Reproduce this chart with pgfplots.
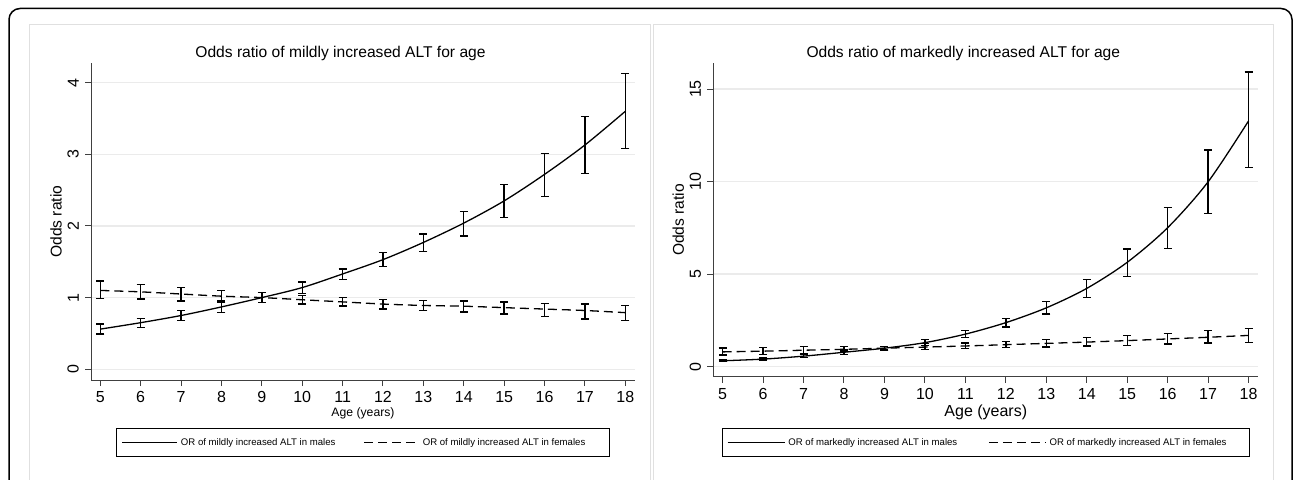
\documentclass[border=0pt]{standalone}
\usepackage{pgfplots}
\pgfplotsset{compat=1.18}
\usepackage{pgfplotstable}
\usepackage{fontspec}
\setmainfont{Liberation Sans}

\pgfplotstableread{
x y lo hi
5 0.56 0.49 0.63
6 0.65 0.58 0.71
7 0.75 0.68 0.82
8 0.87 0.79 0.95
9 1.00 0.93 1.07
10 1.14 1.06 1.22
11 1.33 1.25 1.40
12 1.53 1.43 1.63
13 1.77 1.64 1.89
14 2.04 1.86 2.20
15 2.35 2.12 2.58
16 2.72 2.41 3.01
17 3.13 2.73 3.53
18 3.60 3.08 4.13
}\mildmale
\pgfplotstableread{
x y lo hi
5 1.10 0.99 1.23
6 1.08 0.98 1.18
7 1.05 0.95 1.14
8 1.02 0.93 1.10
9 1.00 0.93 1.07
10 0.97 0.91 1.03
11 0.94 0.88 1.00
12 0.91 0.84 0.97
13 0.89 0.82 0.96
14 0.88 0.80 0.95
15 0.86 0.77 0.94
16 0.84 0.74 0.92
17 0.82 0.70 0.91
18 0.79 0.68 0.89
}\mildfemale
\pgfplotstableread{
x y lo hi
5 0.32 0.28 0.37
6 0.41 0.36 0.47
7 0.57 0.49 0.67
8 0.78 0.67 0.90
9 1.00 0.90 1.10
10 1.30 1.13 1.47
11 1.76 1.58 1.94
12 2.38 2.14 2.61
13 3.18 2.85 3.52
14 4.23 3.75 4.70
15 5.64 4.88 6.35
16 7.51 6.37 8.61
17 9.99 8.28 11.71
18 13.28 10.75 15.92
}\markmale
\pgfplotstableread{
x y lo hi
5 0.80 0.63 1.00
6 0.84 0.67 1.04
7 0.89 0.72 1.08
8 0.94 0.81 1.08
9 1.00 0.90 1.10
10 1.06 0.92 1.25
11 1.12 0.99 1.27
12 1.19 1.04 1.37
13 1.26 1.07 1.48
14 1.33 1.11 1.57
15 1.41 1.16 1.68
16 1.50 1.22 1.78
17 1.59 1.28 1.94
18 1.69 1.32 2.07
}\markfemale

\pgfplotsset{
  ORaxis/.style={
    scale only axis,
    axis x line*=bottom, axis y line*=left,
    axis line style={-, black!75, line width=1pt},
    tick align=outside,
    major tick length=6pt,
    tick style={black!75, line width=1pt},
    xmin=4.77, xmax=18.24,
    xtick={5,...,18},
    ymajorgrids,
    major grid style={black!8, line width=1.3pt},
    /pgf/number format/assume math mode=true,
    ticklabel style={font=\fontsize{16}{16}\selectfont},
    xticklabel style={yshift=-2pt},
    yticklabel style={rotate=90, anchor=south, inner ysep=6pt},
    ylabel={Odds ratio},
    ylabel style={anchor=center, font=\fontsize{15.6}{18}\selectfont},
    title style={at={(axis description cs:0.5,1)}, anchor=base, xshift=-22.5pt, yshift=-0.3pt, font=\fontsize{15.6}{18}\selectfont},
    xlabel={Age (years)},
    legend columns=2,
    legend cell align=left,
    legend style={at={(axis description cs:0.5,0)}, anchor=north, draw=black, line width=0.9pt,
      inner xsep=5pt, inner ysep=7pt, font=\fontsize{9.6}{11}\selectfont,
      nodes={inner sep=3pt}},
  },
  male/.style={black, line width=1.3pt, smooth, tension=0.5,
    error bars/y dir=both, error bars/y explicit,
    error bars/error bar style={line width=1.4pt, solid},
    error bars/error mark options={rotate=90, mark size=4pt, line width=1.4pt, solid}},
  female/.style={male, dash pattern=on 9pt off 5pt},
}

\begin{document}
\begin{tikzpicture}
\useasboundingbox (0pt,0pt) rectangle (1295pt,479pt);
\clip (0pt,0pt) rectangle (1295pt,479pt);
\fill[white] (0pt,0pt) rectangle (1295pt,479pt);
\draw[black!12, line width=1pt] (29.5pt,-30pt) rectangle (650.5pt,454pt);
\draw[black!12, line width=1pt] (653pt,-30pt) rectangle (1273.5pt,454pt);
\draw[black, line width=1.5pt, rounded corners=11pt] (9pt,-30pt) rectangle (1292pt,470.5pt);

\begin{axis}[ORaxis,
  at={(91pt,99pt)}, anchor=south west, width=544pt, height=316.7pt,
  ymin=-0.15, ymax=4.27, ytick={0,1,2,3,4},
  title={Odds ratio of mildly increased ALT for age},
  ylabel style={at={(axis description cs:-0.0643,0.5)}},
  xlabel style={at={(axis description cs:0.5,0)}, anchor=base, yshift=-36.5pt, font=\fontsize{12.2}{14}\selectfont},
  legend style={yshift=-48pt, /tikz/every even column/.append style={column sep=25pt}},
  legend image code/.code={\draw[#1] (0pt,0pt) -- (55pt,0pt);},
]
\addplot[male] table[x=x, y=y, y error plus expr=\thisrow{hi}-\thisrow{y}, y error minus expr=\thisrow{y}-\thisrow{lo}]{\mildmale};
\addlegendentry{OR of mildly increased ALT in males}
\addplot[female] table[x=x, y=y, y error plus expr=\thisrow{hi}-\thisrow{y}, y error minus expr=\thisrow{y}-\thisrow{lo}]{\mildfemale};
\addlegendentry{OR of mildly increased ALT in females\hspace*{16pt}}
\end{axis}

\begin{axis}[ORaxis,
  at={(713.3pt,102.3pt)}, anchor=south west, width=545pt, height=313.4pt,
  ymin=-0.54, ymax=16.39, ytick={0,5,10,15},
  title={Odds ratio of markedly increased ALT for age},
  ylabel style={at={(axis description cs:-0.0642,0.5)}},
  xlabel style={at={(axis description cs:0.5,0)}, anchor=base, yshift=-39.5pt, font=\fontsize{16}{18}\selectfont},
  legend style={yshift=-51.3pt, /tikz/every even column/.append style={column sep=28pt}},
  legend image code/.code={\draw[#1] (0pt,0pt) -- (57pt,0pt);},
]
\addplot[male] table[x=x, y=y, y error plus expr=\thisrow{hi}-\thisrow{y}, y error minus expr=\thisrow{y}-\thisrow{lo}]{\markmale};
\addlegendentry{OR of markedly increased ALT in males}
\addplot[female] table[x=x, y=y, y error plus expr=\thisrow{hi}-\thisrow{y}, y error minus expr=\thisrow{y}-\thisrow{lo}]{\markfemale};
\addlegendentry{OR of markedly increased ALT in females\hspace*{15pt}}
\end{axis}
\end{tikzpicture}
\end{document}
